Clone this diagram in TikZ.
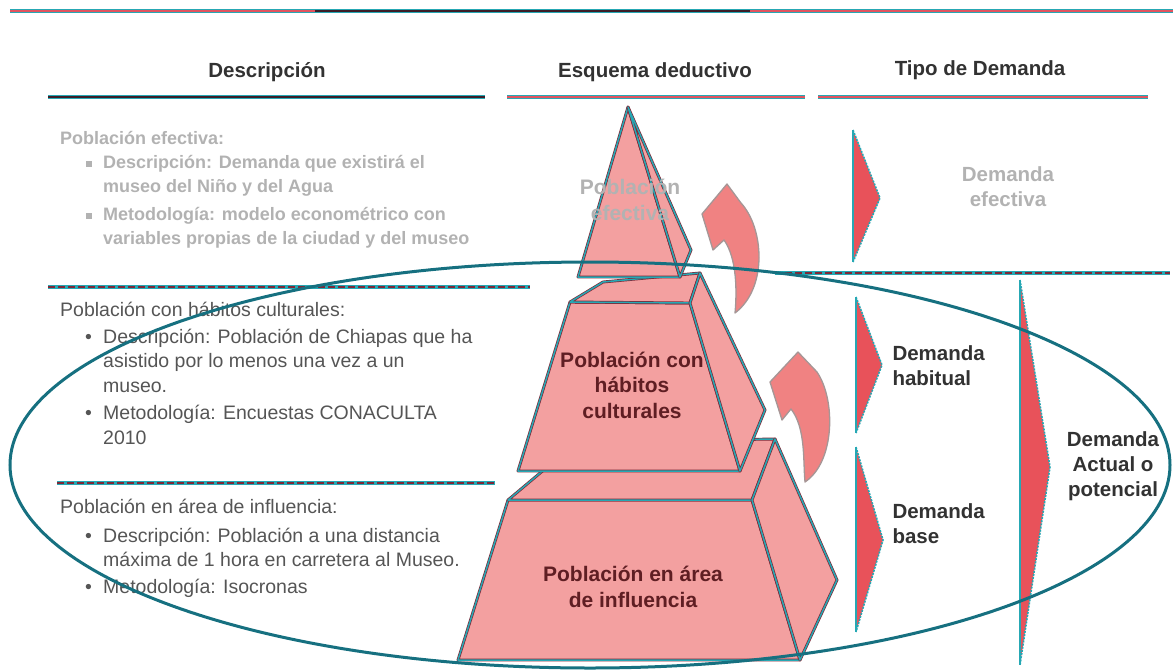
\documentclass[tikz,border=0pt]{standalone}
\usepackage{fontspec}
\setmainfont{Liberation Sans}
\usetikzlibrary{arrows.meta}

\definecolor{pyrpink}{RGB}{243,160,160}
\definecolor{pyrteal}{RGB}{38,168,180}
\definecolor{pyrdark}{RGB}{125,40,55}
\definecolor{arrowpink}{RGB}{240,130,130}
\definecolor{arrowgrey}{RGB}{165,150,150}
\definecolor{chevred}{RGB}{232,82,90}
\definecolor{ovalteal}{RGB}{22,112,128}
\definecolor{textgrey}{RGB}{85,85,85}
\definecolor{headgrey}{RGB}{50,50,50}
\definecolor{linered}{RGB}{226,84,95}
\definecolor{linedark}{RGB}{60,30,40}
\definecolor{lblbrown}{RGB}{95,30,35}

\newcommand{\bitem}{\hspace*{25pt}\makebox[18pt][l]{\textbullet}}
\newcommand{\bcont}{\hspace*{43pt}}
\newcommand{\sitem}{\hspace*{26pt}\makebox[17pt][l]{\raisebox{2pt}{\rule{6pt}{6pt}}}}

\begin{document}
\begin{tikzpicture}[x=1pt,y=-1pt]
\tikzset{
  face/.style={fill=pyrpink, draw=pyrdark, line width=0.7pt, double=pyrteal, double distance=1.5pt, line join=round},
  flecha/.style={fill=arrowpink, draw=arrowgrey, line width=1.3pt, line join=round},
  chevron/.style={fill=chevred},
  chevfront/.style={draw=pyrteal, line width=1.8pt},
  chevback/.style={draw=pyrteal, line width=1.6pt, dash pattern=on 2pt off 1.2pt},
  sepline/.style={preaction={draw=pyrteal, line width=3.2pt}, draw=pyrdark, line width=1.2pt, dash pattern=on 7pt off 3pt},
  headline/.style={preaction={draw=pyrteal, line width=4.4pt}, line width=2.4pt},
  header/.style={font=\fontsize{20.5}{23}\selectfont\bfseries, text=headgrey},
  desc/.style={font=\fontsize{19.5}{24.5}\selectfont, text=textgrey, align=left, anchor=north west, inner sep=0pt},
  descb/.style={desc, font=\fontsize{18}{23.5}\selectfont\bfseries, text=gray!60},
  demanda/.style={font=\fontsize{20.5}{25}\selectfont\bfseries, text=headgrey, align=left},
  pyrlabel/.style={font=\fontsize{21}{25.5}\selectfont\bfseries, text=lblbrown, align=center},
  oval/.style={draw=ovalteal, line width=3pt}
}
\useasboundingbox (0,0) rectangle (1173,670);

% top rule
\draw[headline, draw=linered] (10,11) -- (315,11);
\draw[headline, draw=linedark] (315,11) -- (750,11);
\draw[headline, draw=linered] (750,11) -- (1173,11);

% column headers
\node[header] (hdesc) at (267,72) {Descripción};
\node[header] (hesq) at (655,72) {Esquema deductivo};
\node[header] (htipo) at (980,70) {Tipo de Demanda};
\draw[headline, draw=linedark] (48,97) -- (485,97);
\draw[headline, draw=linered] (507,97) -- (805,97);
\draw[headline, draw=linered] (818,97) -- (1148,97);

% separators
\draw[sepline] (48,287) -- (530,287);
\draw[sepline] (57,483) -- (495,483);
\draw[sepline] (775,273) -- (1170,273);

% descriptions
\node[descb] (efdesc) at (60,131) {Población efectiva:\\[1pt]
\sitem Descripción: Demanda que existirá el\\
\bcont museo del Niño y del Agua\\[5pt]
\sitem Metodología: modelo econométrico con\\
\bcont variables propias de la ciudad y del museo};
\node[desc] (habdesc) at (60,302) {Población con hábitos culturales:\\[2pt]
\bitem Descripción: Población de Chiapas que ha\\
\bcont asistido por lo menos una vez a un\\
\bcont museo.\\[3pt]
\bitem Metodología: Encuestas CONACULTA\\
\bcont 2010};
\node[desc] (infdesc) at (60,499) {Población en área de influencia:\\[4pt]
\bitem Descripción: Población a una distancia\\
\bcont máxima de 1 hora en carretera al Museo.\\[2pt]
\bitem Metodología: Isocronas};

% pyramid, bottom tier
\filldraw[face] (508,500) -- (752,500) -- (800,660) -- (458,660) -- cycle;
\filldraw[face] (508,500) -- (577,442) -- (775,439) -- (752,500) -- cycle;
\filldraw[face] (752,500) -- (775,439) -- (837,580) -- (800,660) -- cycle;
% middle tier
\filldraw[face] (570,302) -- (690,303) -- (740,471) -- (518,471) -- cycle;
\filldraw[face] (570,302) -- (603,282) -- (700,273) -- (690,303) -- cycle;
\filldraw[face] (690,303) -- (700,273) -- (765,410) -- (740,471) -- cycle;
% top tier
\filldraw[face] (628,107) -- (680,277) -- (578,277) -- cycle;
\filldraw[face] (628,107) -- (691,250) -- (680,277) -- cycle;

% curved arrows
\filldraw[flecha] (735,313) .. controls (768,288) and (764,228) .. (741,203) -- (727,184) -- (702,214) -- (713,250) -- (724,240) .. controls (737,258) and (737,292) .. (735,313) -- cycle;
\filldraw[flecha] (805,482) .. controls (835,462) and (836,400) .. (817,372) -- (798,352) -- (770,382) -- (782,420) -- (791,409) .. controls (806,428) and (803,462) .. (805,482) -- cycle;

% demand chevrons
\foreach \xa/\ya/\xb/\yb/\yc in {853/130/880/198/262, 856/297/882/365/433, 856/447/883/540/632, 1020/280/1050/467/665}{
  \fill[chevron] (\xa,\ya) -- (\xb,\yb) -- (\xa,\yc) -- cycle;
  \draw[chevback] (\xa,\ya) -- (\xb,\yb) -- (\xa,\yc);
  \draw[chevfront] (\xa,\ya) -- (\xa,\yc);
}

\node[demanda, text=gray!60, align=center] (defec) at (1008,187) {Demanda\\efectiva};
\node[demanda, anchor=west] (dhab) at (889,366) {Demanda\\habitual};
\node[demanda, anchor=west] (dbase) at (889,524) {Demanda\\base};
\node[demanda, align=center] (dpot) at (1113,466) {Demanda\\Actual o\\potencial};

% potential demand
\draw[oval] (590,465) ellipse [x radius=580pt, y radius=203pt];

\node[pyrlabel, text=gray!60] (lbltop) at (630,200) {Población\\efectiva};
\node[pyrlabel] (lblmid) at (632,385) {Población con\\hábitos\\culturales};
\node[pyrlabel] (lblbot) at (633,587) {Población en área\\de influencia};
\end{tikzpicture}
\end{document}
